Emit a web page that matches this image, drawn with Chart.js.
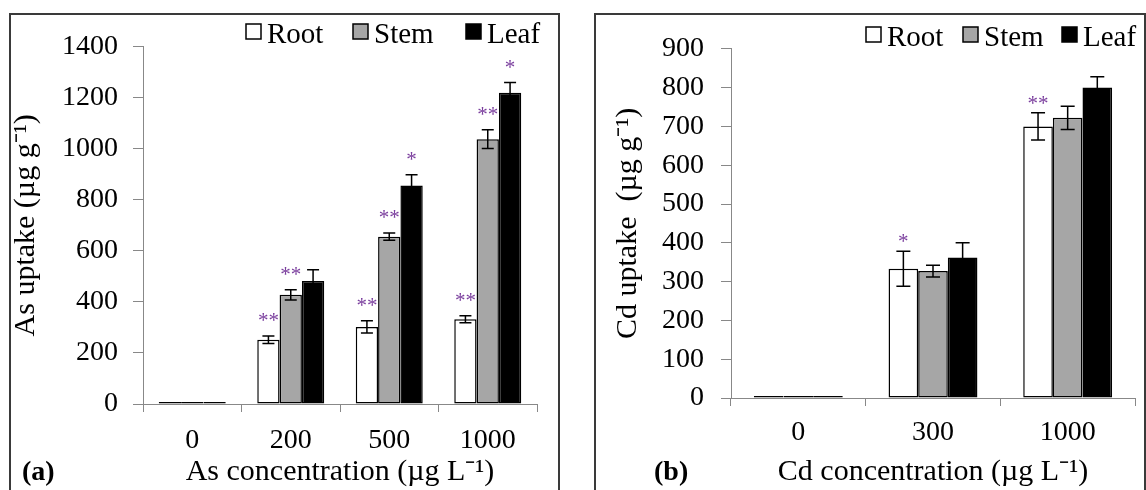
<!DOCTYPE html>
<html>
<head>
<meta charset="utf-8">
<script src="https://cdn.jsdelivr.net/npm/chart.js@4.4.1/dist/chart.umd.min.js"></script>
<style>
  body { margin: 0; background: #fff; width: 1146px; height: 490px; overflow: hidden; position: relative; }
  .panel { position: absolute; top: 13px; height: 490px; border: 2px solid #3a3a3a; box-sizing: border-box; }
  canvas { position: absolute; }
</style>
</head>
<body>
<canvas id="chartA" width="545" height="475" style="left:11px;top:15px"></canvas>
<canvas id="chartB" width="547" height="475" style="left:597px;top:15px"></canvas>
<div class="panel" style="left:9px;width:551px"></div>
<div class="panel" style="left:594px;width:552px"></div>
<script>
// panel (a): As
const asLabels = ['0', '200', '500', '1000'];
const asRoot = [8, 252, 302, 332];
const asRootErr = [0, 15, 24, 14];
const asStem = [8, 428, 656, 1038];
const asStemErr = [0, 20, 14, 37];
const asLeaf = [8, 482, 856, 1220];
const asLeafErr = [0, 44, 43, 40];
const asRootSig = ['', '**', '**', '**'];
const asStemSig = ['', '**', '**', '**'];
const asLeafSig = ['', '', '*', '*'];

// panel (b): Cd
const cdLabels = ['0', '300', '1000'];
const cdRoot = [5, 333, 700];
const cdRootErr = [0, 45, 35];
const cdStem = [5, 327, 722];
const cdStemErr = [0, 15, 30];
const cdLeaf = [5, 362, 800];
const cdLeafErr = [0, 38, 28];
const cdRootSig = ['', '*', '**'];
const cdStemSig = ['', '', ''];
const cdLeafSig = ['', '', ''];

const seriesNames = ['Root', 'Stem', 'Leaf'];
const seriesColors = ['#ffffff', '#a6a6a6', '#000000'];

const SERIF = "'Liberation Serif', 'Times New Roman', serif";

const extras = {
  id: 'extras',
  afterDatasetsDraw(chart, args, opts) {
    const ctx = chart.ctx;
    const y = chart.scales.y;
    ctx.save();
    chart.data.datasets.forEach((ds, i) => {
      chart.getDatasetMeta(i).data.forEach((bar, j) => {
        const v = ds.data[j], e = ds.errors[j];
        let top = y.getPixelForValue(v);
        if (e > 0) {
          const hi = y.getPixelForValue(v + e), lo = y.getPixelForValue(v - e);
          ctx.strokeStyle = '#000';
          ctx.lineWidth = 1.5;
          ctx.beginPath();
          ctx.moveTo(bar.x, hi); ctx.lineTo(bar.x, lo);
          ctx.moveTo(bar.x - opts.cap, hi); ctx.lineTo(bar.x + opts.cap, hi);
          ctx.moveTo(bar.x - opts.cap, lo); ctx.lineTo(bar.x + opts.cap, lo);
          ctx.stroke();
          top = hi;
        }
        if (ds.sig[j]) {
          ctx.fillStyle = '#7b3f9e';
          ctx.font = '21px ' + SERIF;
          ctx.textAlign = 'center';
          ctx.textBaseline = 'alphabetic';
          ctx.fillText(ds.sig[j], bar.x, top - opts.starGap);
        }
      });
    });
    ctx.restore();
  },
  afterDraw(chart, args, opts) {
    const ctx = chart.ctx;
    ctx.save();
    chart.data.datasets.forEach((ds, i) => {
      const x = opts.legendX[i], yy = opts.legendY;
      ctx.fillStyle = ds.backgroundColor;
      ctx.fillRect(x, yy, 15, 15);
      ctx.strokeStyle = '#000';
      ctx.lineWidth = 1.5;
      ctx.strokeRect(x, yy, 15, 15);
      ctx.fillStyle = '#000';
      ctx.font = '29px ' + SERIF;
      ctx.textAlign = 'left';
      ctx.textBaseline = 'alphabetic';
      ctx.fillText(ds.label, x + 21, yy + 19);
    });
    ctx.font = 'bold 28px ' + SERIF;
    ctx.fillText(opts.panel, opts.panelX, opts.panelY);
    ctx.restore();
  }
};

function makeChart(id, labels, values, errors, sigs, o) {
  const tickFont = { family: SERIF, size: 28 };
  const titleFont = { family: SERIF, size: 30, lineHeight: 1 };
  return new Chart(document.getElementById(id), {
    type: 'bar',
    data: {
      labels: labels,
      datasets: seriesNames.map((name, i) => ({
        label: name,
        data: values[i],
        errors: errors[i],
        sig: sigs[i],
        backgroundColor: seriesColors[i],
        borderColor: '#000',
        borderWidth: 1.5,
        borderSkipped: false,
        categoryPercentage: o.cat,
        barPercentage: 1
      }))
    },
    options: {
      responsive: false,
      animation: false,
      layout: { padding: { top: o.top, right: o.right, left: o.left, bottom: 0 } },
      plugins: {
        legend: { display: false },
        tooltip: { enabled: false },
        extras: o.extras
      },
      scales: {
        x: {
          grid: { drawOnChartArea: false, tickLength: 8, color: '#888', offset: true },
          border: { color: '#888', width: 1 },
          ticks: { font: tickFont, color: '#000', padding: o.xpad },
          title: { display: true, text: o.xTitle, font: titleFont, color: '#000', padding: { top: 0, bottom: 3 } },
          afterFit: s => { s.height = o.xh; }
        },
        y: {
          min: 0, max: o.max,
          ticks: { stepSize: o.step, font: tickFont, color: '#000', padding: o.ypad, callback: v => String(v) },
          grid: { drawOnChartArea: false, tickLength: 10, color: '#888' },
          border: { color: '#888', width: 1 },
          title: { display: true, text: o.yTitle, font: titleFont, color: '#000', padding: { top: 0, bottom: 0 } },
          afterFit: s => { s.width = o.yw; }
        }
      }
    },
    plugins: [extras]
  });
}

makeChart('chartA', asLabels,
  [asRoot, asStem, asLeaf], [asRootErr, asStemErr, asLeafErr], [asRootSig, asStemSig, asLeafSig], {
    cat: 0.68, top: 26, right: 19, left: 0, yw: 132, xh: 86, max: 1400, step: 200,
    xpad: 12, ypad: 15,
    yTitle: 'As uptake (µg g⁻¹)', xTitle: 'As concentration (µg L⁻¹)',
    extras: { cap: 6, starGap: 9, legendX: [235, 342, 455], legendY: 9, panel: '(a)', panelX: 11, panelY: 465 }
  });

makeChart('chartB', cdLabels,
  [cdRoot, cdStem, cdLeaf], [cdRootErr, cdStemErr, cdLeafErr], [cdRootSig, cdStemSig, cdLeafSig], {
    cat: 0.66, top: 28, right: 9, left: 16, yw: 118, xh: 92, max: 900, step: 100,
    xpad: 10, ypad: 17,
    yTitle: 'Cd uptake  (µg g⁻¹)', xTitle: 'Cd concentration (µg L⁻¹)',
    extras: { cap: 7, starGap: 3, legendX: [269, 366, 465], legendY: 12, panel: '(b)', panelX: 57, panelY: 465 }
  });
</script>
</body>
</html>
